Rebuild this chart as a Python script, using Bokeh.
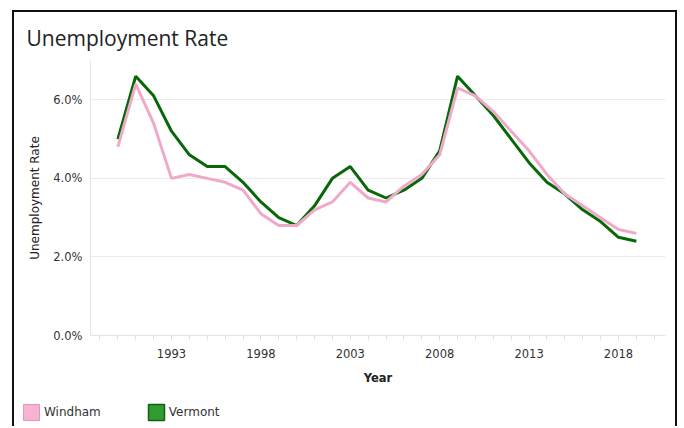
from bokeh.plotting import figure
from bokeh.layouts import column
from bokeh.models import (FixedTicker, PrintfTickFormatter, Legend, LegendItem, Range1d)
from bokeh.embed import file_html
from bokeh.resources import INLINE

years = list(range(1990, 2020))
windham = [4.8, 6.4, 5.4, 4.0, 4.1, 4.0, 3.9, 3.7, 3.1, 2.8,
           2.8, 3.2, 3.4, 3.9, 3.5, 3.4, 3.8, 4.1, 4.6, 6.3,
           6.1, 5.7, 5.2, 4.7, 4.1, 3.6, 3.3, 3.0, 2.7, 2.6]
vermont = [5.0, 6.6, 6.1, 5.2, 4.6, 4.3, 4.3, 3.9, 3.4, 3.0,
           2.8, 3.3, 4.0, 4.3, 3.7, 3.5, 3.7, 4.0, 4.7, 6.6,
           6.1, 5.6, 5.0, 4.4, 3.9, 3.6, 3.2, 2.9, 2.5, 2.4]
x_tick_years = [1993, 1998, 2003, 2008, 2013, 2018]
y_ticks = [0, 2, 4, 6]
series_names = ["Windham", "Vermont"]

PINK = "#efa9c9"
GREEN = "#086808"
TXT = "#333333"
FONT = "DejaVu Sans"
BORDER = "2px solid #111111"

p = figure(width=665, height=386,
           x_range=Range1d(1988.47, 2020.63), y_range=Range1d(0, 7),
           output_backend="svg", toolbar_location=None,
           min_border_left=76, min_border_right=14,
           min_border_top=48, min_border_bottom=63)
p.styles = {"border-top": BORDER, "border-left": BORDER, "border-right": BORDER}
p.outline_line_color = None
p.frame_align = False

p.title.text = "Unemployment Rate"
p.title.text_font = "Open Sans"
p.title.text_font_size = "21px"
p.title.text_font_style = "normal"
p.title.text_color = "#222222"
p.title.offset = -64
p.title.standoff = 18

p.line(years, vermont, line_color=GREEN, line_width=3)
p.line(years, windham, line_color=PINK, line_width=3)

# y axis
yax = p.yaxis[0]
yax.ticker = FixedTicker(ticks=y_ticks)
yax.formatter = PrintfTickFormatter(format="%.1f%%")
yax.major_tick_out = 0
yax.major_tick_in = 0
yax.minor_tick_out = 0
yax.minor_tick_in = 0
yax.axis_line_color = "#e4e4e4"
yax.major_label_text_font = FONT
yax.major_label_text_font_size = "11.5px"
yax.major_label_text_color = TXT
yax.major_label_standoff = 8
yax.axis_label = "Unemployment Rate"
yax.axis_label_text_font = FONT
yax.axis_label_text_font_size = "12px"
yax.axis_label_text_font_style = "normal"
yax.axis_label_text_color = "#222222"
yax.axis_label_standoff = 8

# x axis
xax = p.xaxis[0]
xax.ticker = FixedTicker(ticks=x_tick_years, minor_ticks=list(range(1989, 2021)))
xax.major_tick_out = 5
xax.major_tick_in = 0
xax.minor_tick_out = 4
xax.minor_tick_in = 0
xax.major_tick_line_color = "#d8d8d8"
xax.minor_tick_line_color = "#dedede"
xax.axis_line_color = "#e4e4e4"
xax.major_label_text_font = FONT
xax.major_label_text_font_size = "11.5px"
xax.major_label_text_color = TXT
xax.major_label_standoff = 8
xax.axis_label = "Year"
xax.axis_label_text_font = FONT
xax.axis_label_text_font_size = "11.5px"
xax.axis_label_text_font_style = "bold"
xax.axis_label_text_color = "#222222"
xax.axis_label_standoff = 10

p.xgrid.grid_line_color = None
p.ygrid.ticker = FixedTicker(ticks=y_ticks)
p.ygrid.grid_line_color = "#ebebeb"

# legend strip
leg = figure(width=665, height=30, x_range=Range1d(0, 1), y_range=Range1d(0, 1),
             x_axis_type=None, y_axis_type=None,
             output_backend="svg", toolbar_location=None,
             min_border_left=0, min_border_right=0, min_border_top=0, min_border_bottom=0)
leg.styles = {"border-left": BORDER, "border-right": BORDER}
leg.outline_line_color = None
leg.grid.grid_line_color = None
leg.frame_align = False

nan = float("nan")
wr = leg.quad(left=[nan], right=[nan], top=[nan], bottom=[nan],
              fill_color="#f5b4d1", line_color="#e597bb", line_width=1)
vr = leg.quad(left=[nan], right=[nan], top=[nan], bottom=[nan],
              fill_color="#2f9c2f", line_color="#145f14", line_width=1.5)

legend = Legend(items=[LegendItem(label=series_names[0], renderers=[wr]),
                       LegendItem(label=series_names[1], renderers=[vr])],
                orientation="horizontal", location=(7, 4),
                glyph_width=20, glyph_height=20, label_standoff=3, spacing=45,
                padding=0, margin=0, border_line_color=None, background_fill_alpha=0,
                label_text_font=FONT, label_text_font_size="12px", label_text_color=TXT)
leg.add_layout(legend, "center")

layout = column(p, leg, spacing=0, styles={"margin-left": "12px", "margin-top": "10px"})

open("out.html", "w").write(file_html(layout, INLINE))
